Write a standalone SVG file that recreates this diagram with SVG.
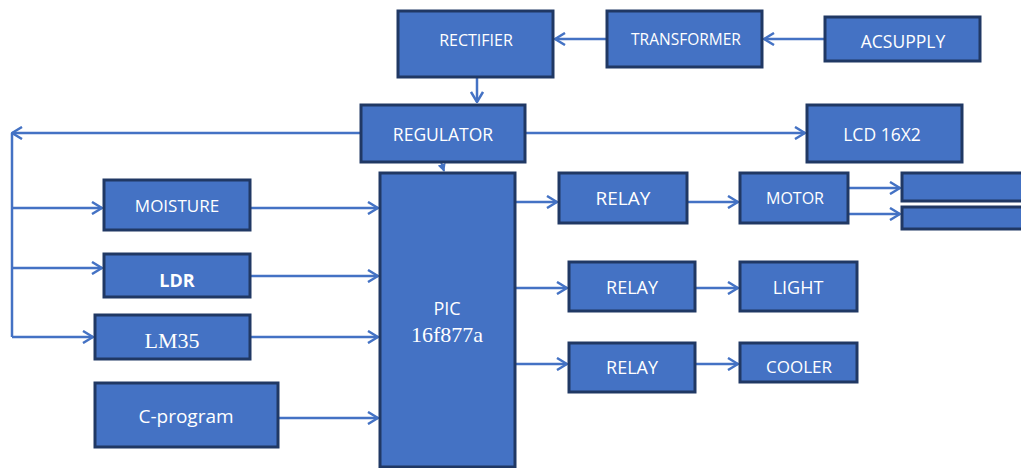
<svg xmlns="http://www.w3.org/2000/svg" width="1021" height="468" viewBox="0 0 1021 468">
<defs>
<style>
.box{fill:#4472C4;stroke:#203864;stroke-width:3}
.t{fill:#ffffff;font-family:"Open Sans","Liberation Sans",sans-serif;font-size:17px;text-anchor:middle;dominant-baseline:central}
.s{fill:#ffffff;font-family:"Liberation Serif",serif;font-size:22px;text-anchor:middle;dominant-baseline:central}
.c{fill:none;stroke:#4472C4;stroke-width:2.5}
</style>
<marker id="ah" viewBox="0 0 12 14" refX="11" refY="7" markerWidth="12" markerHeight="14" markerUnits="userSpaceOnUse" orient="auto">
<path d="M1,1 L11,7 L1,13" fill="none" stroke="#4472C4" stroke-width="2.5"/>
</marker>
<marker id="sm" viewBox="0 0 8 8" refX="7" refY="4" markerWidth="8" markerHeight="8" markerUnits="userSpaceOnUse" orient="auto">
<path d="M0,0 L8,4 L0,8 Z" fill="#4472C4"/>
</marker>
</defs>
<rect width="1021" height="468" fill="#ffffff"/>
<g id="connectors">
<line class="c" x1="607" y1="39" x2="555" y2="39" marker-end="url(#ah)"/>
<line class="c" x1="825" y1="39" x2="764" y2="39" marker-end="url(#ah)"/>
<line class="c" x1="477" y1="77" x2="477" y2="102" marker-end="url(#ah)"/>
<polyline class="c" points="361,133 12,133" marker-end="url(#ah)"/>
<line class="c" x1="525" y1="133" x2="805" y2="133" marker-end="url(#ah)"/>
<line class="c" x1="12" y1="133" x2="12" y2="337"/>
<line class="c" x1="12" y1="208" x2="102" y2="208" marker-end="url(#ah)"/>
<line class="c" x1="12" y1="268" x2="102" y2="268" marker-end="url(#ah)"/>
<line class="c" x1="12" y1="337" x2="93" y2="337" marker-end="url(#ah)"/>
<line class="c" x1="250" y1="208" x2="378" y2="208" marker-end="url(#ah)"/>
<line class="c" x1="250" y1="276" x2="378" y2="276" marker-end="url(#ah)"/>
<line class="c" x1="250" y1="337" x2="378" y2="337" marker-end="url(#ah)"/>
<line class="c" x1="278" y1="418" x2="378" y2="418" marker-end="url(#ah)"/>
<line x1="441" y1="162" x2="444" y2="171" stroke="#4472C4" stroke-width="2" marker-end="url(#sm)"/>
<line class="c" x1="515" y1="202" x2="557" y2="202" marker-end="url(#ah)"/>
<line class="c" x1="687" y1="202" x2="738" y2="202" marker-end="url(#ah)"/>
<line class="c" x1="848" y1="188" x2="900" y2="188" marker-end="url(#ah)"/>
<line class="c" x1="848" y1="214" x2="900" y2="214" marker-end="url(#ah)"/>
<line class="c" x1="515" y1="288" x2="567" y2="288" marker-end="url(#ah)"/>
<line class="c" x1="695" y1="288" x2="738" y2="288" marker-end="url(#ah)"/>
<line class="c" x1="515" y1="364" x2="567" y2="364" marker-end="url(#ah)"/>
<line class="c" x1="695" y1="364" x2="738" y2="364" marker-end="url(#ah)"/>
</g>
<g id="rectifier"><rect class="box" x="398" y="11" width="155" height="66"/><text class="t" x="476" y="40" style="font-size:16px">RECTIFIER</text></g>
<g id="transformer"><rect class="box" x="607" y="11" width="155" height="56"/><text class="t" x="686" y="39" style="font-size:15.5px">TRANSFORMER</text></g>
<g id="acsupply"><rect class="box" x="825" y="17" width="155" height="44"/><text class="t" x="903" y="41" style="font-size:17.5px">ACSUPPLY</text></g>
<g id="regulator"><rect class="box" x="361" y="105" width="164" height="57"/><text class="t" x="443" y="134" style="font-size:17.5px">REGULATOR</text></g>
<g id="lcd"><rect class="box" x="807" y="105" width="155" height="57"/><text class="t" x="882" y="134" style="font-size:17.5px">LCD 16X2</text></g>
<g id="pic"><rect class="box" x="380" y="173" width="135" height="294"/><text class="t" x="447" y="308" style="font-size:18px">PIC</text><text class="s" x="447" y="334">16f877a</text></g>
<g id="moisture"><rect class="box" x="104" y="180" width="146" height="50"/><text class="t" x="177" y="205">MOISTURE</text></g>
<g id="ldr"><rect class="box" x="104" y="254" width="146" height="43"/><text class="t" x="177" y="280" style="font-weight:bold;font-size:18px">LDR</text></g>
<g id="lm35"><rect class="box" x="95" y="315" width="155" height="44"/><text class="s" x="172" y="340">LM35</text></g>
<g id="cprogram"><rect class="box" x="95" y="383" width="183" height="64"/><text class="t" x="186" y="416" style="font-size:19px">C-program</text></g>
<g id="relay1"><rect class="box" x="559" y="173" width="128" height="50"/><text class="t" x="623" y="198" style="font-size:19px">RELAY</text></g>
<g id="motor"><rect class="box" x="740" y="173" width="108" height="50"/><text class="t" x="795" y="198" style="font-size:16px">MOTOR</text></g>
<g id="out1"><rect class="box" x="902" y="173" width="125" height="28"/></g>
<g id="out2"><rect class="box" x="902" y="207" width="125" height="22"/></g>
<g id="relay2"><rect class="box" x="569" y="262" width="126" height="49"/><text class="t" x="632" y="287" style="font-size:18px">RELAY</text></g>
<g id="light"><rect class="box" x="740" y="262" width="117" height="49"/><text class="t" x="798" y="287" style="font-size:18px">LIGHT</text></g>
<g id="relay3"><rect class="box" x="569" y="343" width="126" height="49"/><text class="t" x="632" y="367" style="font-size:18px">RELAY</text></g>
<g id="cooler"><rect class="box" x="740" y="343" width="117" height="39"/><text class="t" x="799" y="366" style="font-size:17px">COOLER</text></g>
</svg>
